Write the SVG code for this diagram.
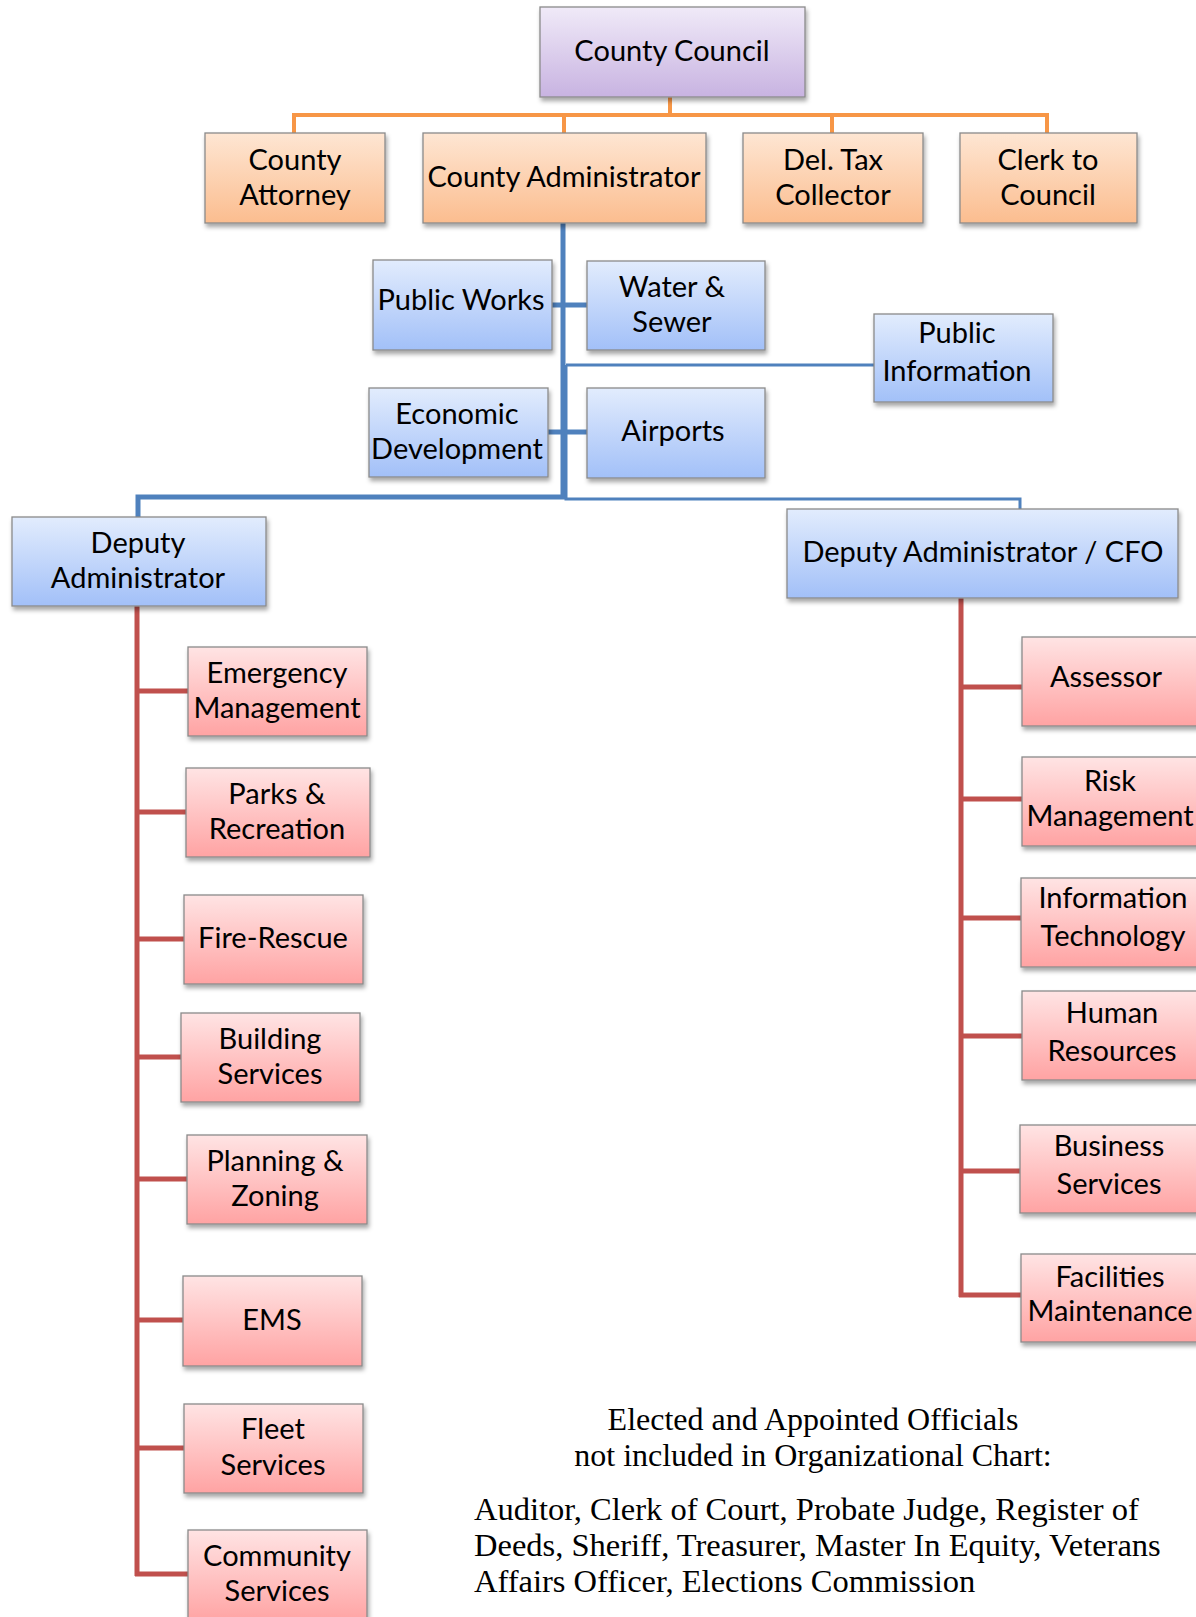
<svg xmlns="http://www.w3.org/2000/svg" width="1196" height="1617" viewBox="0 0 1196 1617">
<defs>
<linearGradient id="gPurple" x1="0" y1="0" x2="0" y2="1"><stop offset="0" stop-color="#f0eaf8"/><stop offset="1" stop-color="#c8b3e1"/></linearGradient>
<linearGradient id="gOrange" x1="0" y1="0" x2="0" y2="1"><stop offset="0" stop-color="#fee6d3"/><stop offset="1" stop-color="#fbbd8f"/></linearGradient>
<linearGradient id="gBlue" x1="0" y1="0" x2="0" y2="1"><stop offset="0" stop-color="#e2ecfd"/><stop offset="1" stop-color="#a2c0f8"/></linearGradient>
<linearGradient id="gRed" x1="0" y1="0" x2="0" y2="1"><stop offset="0" stop-color="#ffe4e4"/><stop offset="1" stop-color="#ffa3a3"/></linearGradient>
<filter id="sh" x="-10%" y="-10%" width="125%" height="130%"><feDropShadow dx="1.5" dy="3.5" stdDeviation="2" flood-color="#000" flood-opacity="0.35"/></filter>
</defs>
<style>
.box{stroke:#8a8a8a;stroke-width:1.3;filter:url(#sh)}
.p{fill:url(#gPurple)}
.o{fill:url(#gOrange)}
.b{fill:url(#gBlue)}
.r{fill:url(#gRed)}
.t{font-family:Lato,"Open Sans",sans-serif;font-size:29px;fill:#000;text-anchor:middle}
.s{font-family:"Liberation Serif","Times New Roman",serif;font-size:32px;fill:#000}
.s2{font-family:"Liberation Serif","Times New Roman",serif;font-size:32.5px;fill:#000}
.lo{stroke:#f79646;fill:none;stroke-width:4}
.lb{stroke:#4f81bd;fill:none;stroke-width:5}
.lbt{stroke:#4f81bd;fill:none;stroke-width:3}
.lr{stroke:#c0504d;fill:none;stroke-width:5}
</style>
<rect width="1196" height="1617" fill="#fff"/>
<g id="connectors">
<path class="lo" d="M670,97 V115 M294,133 V115 H1047 V133 M564,115 V133 M832,115 V133"/>
<path class="lb" d="M563,223 V499 M552,305 H587 M548,432 H587 M565,497 H138 V517"/>
<path class="lbt" d="M566,365 H874 M566,365 V499 H1020 V509"/>
<path class="lr" d="M137,606 V1576 M135,691 H188 M135,812 H186 M135,939 H184 M135,1057 H181 M135,1179 H187 M135,1320 H183 M135,1448 H184 M135,1574 H188"/>
<path class="lr" d="M961,598 V1297 M959,687 H1022 M959,799 H1022 M959,918 H1021 M959,1036 H1022 M959,1171 H1020 M959,1295 H1021"/>
</g>
<g id="county-council"><rect class="box p" x="540" y="7" width="265" height="90"/><text class="t" x="672" y="61">County Council</text></g>
<g id="county-attorney"><rect class="box o" x="205" y="133" width="180" height="90"/><text class="t" x="295" y="170">County</text><text class="t" x="295" y="205">Attorney</text></g>
<g id="county-administrator"><rect class="box o" x="423" y="133" width="283" height="90"/><text class="t" x="564" y="187">County Administrator</text></g>
<g id="del-tax-collector"><rect class="box o" x="743" y="133" width="180" height="90"/><text class="t" x="833" y="170">Del. Tax</text><text class="t" x="833" y="205">Collector</text></g>
<g id="clerk-to-council"><rect class="box o" x="960" y="133" width="177" height="90"/><text class="t" x="1048" y="170">Clerk to</text><text class="t" x="1048" y="205">Council</text></g>
<g id="public-works"><rect class="box b" x="373" y="260" width="179" height="90"/><text class="t" x="461" y="310">Public Works</text></g>
<g id="water-sewer"><rect class="box b" x="587" y="261" width="178" height="89"/><text class="t" x="672" y="297">Water &amp;</text><text class="t" x="672" y="332">Sewer</text></g>
<g id="public-information"><rect class="box b" x="874" y="314" width="179" height="88"/><text class="t" x="957" y="343">Public</text><text class="t" x="957" y="381">Information</text></g>
<g id="economic-development"><rect class="box b" x="369" y="388" width="179" height="89"/><text class="t" x="457" y="424">Economic</text><text class="t" x="457" y="459">Development</text></g>
<g id="airports"><rect class="box b" x="587" y="388" width="178" height="90"/><text class="t" x="673" y="441">Airports</text></g>
<g id="deputy-administrator"><rect class="box b" x="12" y="517" width="254" height="89"/><text class="t" x="138" y="553">Deputy</text><text class="t" x="138" y="588">Administrator</text></g>
<g id="deputy-administrator-cfo"><rect class="box b" x="787" y="509" width="391" height="89"/><text class="t" x="983" y="562">Deputy Administrator / CFO</text></g>
<g id="emergency-management"><rect class="box r" x="188" y="647" width="179" height="89"/><text class="t" x="277" y="683">Emergency</text><text class="t" x="277" y="718">Management</text></g>
<g id="parks-recreation"><rect class="box r" x="186" y="768" width="184" height="89"/><text class="t" x="277" y="804">Parks &amp;</text><text class="t" x="277" y="839">Recreation</text></g>
<g id="fire-rescue"><rect class="box r" x="184" y="895" width="179" height="89"/><text class="t" x="273" y="948">Fire-Rescue</text></g>
<g id="building-services"><rect class="box r" x="181" y="1013" width="179" height="89"/><text class="t" x="270" y="1049">Building</text><text class="t" x="270" y="1084">Services</text></g>
<g id="planning-zoning"><rect class="box r" x="187" y="1135" width="180" height="89"/><text class="t" x="275" y="1171">Planning &amp;</text><text class="t" x="275" y="1206">Zoning</text></g>
<g id="ems"><rect class="box r" x="183" y="1276" width="179" height="90"/><text class="t" x="272" y="1330">EMS</text></g>
<g id="fleet-services"><rect class="box r" x="184" y="1404" width="179" height="89"/><text class="t" x="273" y="1439">Fleet</text><text class="t" x="273" y="1475">Services</text></g>
<g id="community-services"><rect class="box r" x="188" y="1530" width="179" height="92"/><text class="t" x="277" y="1566">Community</text><text class="t" x="277" y="1601">Services</text></g>
<g id="assessor"><rect class="box r" x="1022" y="637" width="180" height="89"/><text class="t" x="1106" y="687">Assessor</text></g>
<g id="risk-management"><rect class="box r" x="1022" y="757" width="180" height="89"/><text class="t" x="1110" y="791">Risk</text><text class="t" x="1110" y="826">Management</text></g>
<g id="information-technology"><rect class="box r" x="1021" y="878" width="181" height="89"/><text class="t" x="1113" y="908">Information</text><text class="t" x="1113" y="946">Technology</text></g>
<g id="human-resources"><rect class="box r" x="1022" y="991" width="180" height="89"/><text class="t" x="1112" y="1023">Human</text><text class="t" x="1112" y="1061">Resources</text></g>
<g id="business-services"><rect class="box r" x="1020" y="1125" width="182" height="88"/><text class="t" x="1109" y="1156">Business</text><text class="t" x="1109" y="1194">Services</text></g>
<g id="facilities-maintenance"><rect class="box r" x="1021" y="1254" width="181" height="88"/><text class="t" x="1110" y="1287">Facilities</text><text class="t" x="1110" y="1321">Maintenance</text></g>
<g id="note">
<text class="s" x="813" y="1430" text-anchor="middle">Elected and Appointed Officials</text>
<text class="s" x="813" y="1466" text-anchor="middle">not included in Organizational Chart:</text>
<text class="s2" x="474" y="1520">Auditor, Clerk of Court, Probate Judge, Register of</text>
<text class="s2" x="474" y="1556">Deeds, Sheriff, Treasurer, Master In Equity, Veterans</text>
<text class="s2" x="474" y="1592">Affairs Officer, Elections Commission</text>
</g>
</svg>
